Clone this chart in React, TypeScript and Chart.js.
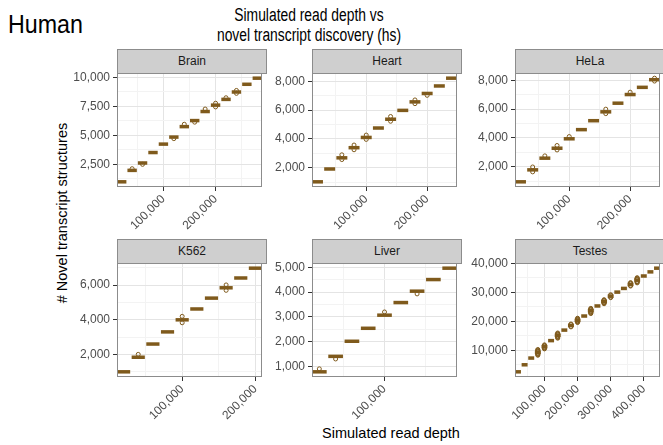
import React, { useEffect, useRef } from "react";
import { Chart, registerables } from "chart.js";

Chart.register(...registerables);
Chart.defaults.font.family = '"Liberation Sans", Arial, Helvetica, sans-serif';

// Simulated read depths (shared by every tissue; each uses as many as it has medians)
const READ_DEPTHS = [
  20000, 40000, 60000, 80000, 100000, 120000, 140000, 160000, 180000, 200000, 220000,
  240000, 260000, 280000, 300000, 320000, 340000, 360000, 380000, 400000, 420000, 440000,
];

// Median novel transcript structures per depth, plus outlying replicates [depth, count]
const BRAIN_MEDIANS = [995, 1980, 2615, 3515, 4240, 4845, 5745, 6265, 7045, 7595, 8090, 8725, 9390, 9915];
const BRAIN_OUTLIERS = [
  [40000, 2125], [60000, 2500], [120000, 4710], [140000, 5950], [160000, 6130], [180000, 7260],
  [200000, 7760], [200000, 7440], [220000, 8230], [240000, 8860], [240000, 8610],
];

const HEART_MEDIANS = [1015, 1905, 2680, 3385, 4095, 4750, 5360, 5975, 6565, 7150, 7670, 8210];
const HEART_OUTLIERS = [
  [60000, 2890], [60000, 2560], [80000, 3570], [80000, 3240], [100000, 4260], [100000, 3960],
  [140000, 5550], [140000, 5220], [180000, 6700], [180000, 6440], [200000, 7020],
];

const HELA_MEDIANS = [960, 1790, 2600, 3290, 3945, 4580, 5200, 5815, 6415, 7015, 7515, 8045];
const HELA_OUTLIERS = [
  [40000, 1990], [40000, 1650], [60000, 2760], [80000, 3480], [80000, 3170], [100000, 4100],
  [160000, 6000], [160000, 5690], [200000, 7180], [240000, 8150], [240000, 7950],
];

const K562_MEDIANS = [1005, 1845, 2605, 3305, 4000, 4625, 5250, 5845, 6410, 6975];
const K562_OUTLIERS = [
  [40000, 2010], [100000, 4200], [100000, 3830], [160000, 6010], [160000, 5700],
];

const LIVER_MEDIANS = [780, 1405, 2015, 2540, 3070, 3580, 4040, 4510, 4970];
const LIVER_OUTLIERS = [[20000, 900], [40000, 1300], [100000, 3200], [140000, 3930]];

const TESTES_MEDIANS = [
  2585, 5015, 7335, 9305, 11275, 13360, 15215, 16990, 18610, 20350, 21855,
  23710, 25330, 26870, 28725, 30115, 31390, 32780, 34285, 35680, 37105, 38380,
];
const TESTES_OUTLIERS = [
  [80000, 8300], [80000, 8500], [80000, 8700], [80000, 8900], [80000, 9100],
  [80000, 9500], [80000, 9700], [80000, 9900], [80000, 10100], [80000, 10300],
  [100000, 10500], [100000, 10700], [100000, 10900], [100000, 11100],
  [100000, 11500], [100000, 11700], [100000, 11900],
  [140000, 14200], [140000, 14400], [140000, 14600], [140000, 14800], [140000, 15000],
  [140000, 15400], [140000, 15600], [140000, 15800], [140000, 16000],
  [180000, 18100], [180000, 18300], [180000, 18900], [180000, 19100],
  [200000, 19600], [200000, 19800], [200000, 20000], [200000, 20200],
  [200000, 20500], [200000, 20700], [200000, 20900], [200000, 21100],
  [240000, 22700], [240000, 22900], [240000, 23100], [240000, 23300], [240000, 23500],
  [240000, 23900], [240000, 24100], [240000, 24300], [240000, 24500],
  [280000, 26100], [280000, 26300], [280000, 26500], [280000, 26700],
  [280000, 27100], [280000, 27300], [280000, 27500],
  [300000, 28200], [300000, 28400], [300000, 29000], [300000, 29200],
  [360000, 32200], [360000, 32400], [360000, 33000], [360000, 33200], [360000, 33400],
  [380000, 33300], [380000, 33500], [380000, 33700], [380000, 33900],
  [380000, 34500], [380000, 34700], [380000, 34900], [380000, 35100],
];

// Axis break sequences (only the ones inside each panel's range are drawn)
const DEPTH_BREAKS_300K = [0, 100000, 200000, 300000];
const DEPTH_BREAKS_200K = [0, 100000, 200000];
const DEPTH_BREAKS_500K = [0, 100000, 200000, 300000, 400000, 500000];
const BRAIN_Y_BREAKS = [0, 2500, 5000, 7500, 10000, 12500];
const HEART_Y_BREAKS = [0, 2000, 4000, 6000, 8000, 10000];
const HELA_Y_BREAKS = [0, 2000, 4000, 6000, 8000, 10000];
const K562_Y_BREAKS = [0, 2000, 4000, 6000, 8000];
const LIVER_Y_BREAKS = [0, 1000, 2000, 3000, 4000, 5000, 6000];
const TESTES_Y_BREAKS = [0, 10000, 20000, 30000, 40000, 50000];

const BROWN = "#7f5a1c";
const PLOT_W = 150;
const PLOT_H = 114;
const STRIP_H = 24;
const Y_AXIS_W = 56;
const X_AXIS_H = 56;
const TOP_PAD = 10;

const fmt = (v: number) => v.toLocaleString("en-US");

type Pair = number[];

interface PanelProps {
  name: string;
  medians: number[];
  outliers: Pair[];
  xBreaks: number[];
  yBreaks: number[];
  left: number;
  top: number;
}

function tickList(breaks: number[], min: number, max: number) {
  const major = breaks.filter((b) => b >= min && b <= max);
  const minor: number[] = [];
  for (let i = 0; i < breaks.length - 1; i++) {
    const m = (breaks[i] + breaks[i + 1]) / 2;
    if (m >= min && m <= max) minor.push(m);
  }
  return { major, all: [...major, ...minor].sort((a, b) => a - b) };
}

const panelBorder = {
  id: "panelBorder",
  afterDraw(chart: any) {
    const { ctx, chartArea: a } = chart;
    ctx.save();
    ctx.strokeStyle = "#8c8c8c";
    ctx.lineWidth = 1;
    ctx.strokeRect(a.left + 0.5, a.top + 0.5, a.right - a.left - 1, a.bottom - a.top - 1);
    ctx.restore();
  },
};

function FacetPanel({ name, medians, outliers, xBreaks, yBreaks, left, top }: PanelProps) {
  const ref = useRef<HTMLCanvasElement>(null);

  useEffect(() => {
    const depths = READ_DEPTHS.slice(0, medians.length);
    const step = depths[1] - depths[0];
    const half = step * 0.45;
    const xMin = depths[0] - half;
    const xMax = depths[depths.length - 1] + half;
    const values = [...medians, ...outliers.map((o) => o[1])];
    const lo = Math.min(...values);
    const hi = Math.max(...values);
    const pad = (hi - lo) * 0.05;
    const yMin = lo - pad;
    const yMax = hi + pad;

    const xt = tickList(xBreaks, xMin, xMax);
    const yt = tickList(yBreaks, yMin, yMax);

    const gridFor = (major: number[]) => ({
      color: (c: any) => (c.tick && major.includes(c.tick.value) ? "#e4e4e4" : "#f3f3f3"),
      lineWidth: 1,
      tickColor: (c: any) => (c.tick && major.includes(c.tick.value) ? "#333333" : "rgba(0,0,0,0)"),
      tickLength: 4,
      tickWidth: 1,
    });

    const chart = new Chart(ref.current as HTMLCanvasElement, {
      type: "scatter",
      data: {
        datasets: [
          {
            data: outliers.map(([x, y]) => ({ x, y })),
            pointStyle: "circle",
            pointRadius: 2,
            pointBorderWidth: 1,
            pointBorderColor: BROWN,
            pointBackgroundColor: "rgba(0,0,0,0)",
            clip: false,
          },
          {
            data: depths.map((x, i) => ({ x, y: medians[i] })),
            pointStyle: "line",
            pointRadius: (c: any) => {
              const s = c.chart.scales.x;
              return Math.abs(s.getPixelForValue(half) - s.getPixelForValue(0));
            },
            pointBorderWidth: 3.5,
            pointBorderColor: BROWN,
            clip: false,
          },
        ] as any,
      },
      options: {
        animation: false,
        responsive: false,
        devicePixelRatio: 1,
        layout: { padding: { top: TOP_PAD, left: 0, right: 0, bottom: 0 } },
        plugins: { legend: { display: false }, tooltip: { enabled: false } },
        events: [],
        scales: {
          x: {
            type: "linear",
            bounds: "data",
            min: xMin,
            max: xMax,
            afterBuildTicks: (s: any) => {
              s.ticks = xt.all.map((v) => ({ value: v }));
            },
            afterFit: (s: any) => {
              s.height = X_AXIS_H;
              s.paddingLeft = 0;
              s.paddingRight = 0;
            },
            grid: gridFor(xt.major),
            border: { display: false },
            ticks: {
              autoSkip: false,
              minRotation: 45,
              maxRotation: 45,
              padding: 1,
              color: "#4d4d4d",
              font: { size: 12 },
              callback: (v: any) => (xt.major.includes(v) ? fmt(v) : ""),
            },
          },
          y: {
            type: "linear",
            bounds: "data",
            min: yMin,
            max: yMax,
            afterBuildTicks: (s: any) => {
              s.ticks = yt.all.map((v) => ({ value: v }));
            },
            afterFit: (s: any) => {
              s.width = Y_AXIS_W;
              s.paddingTop = 0;
              s.paddingBottom = 0;
            },
            grid: gridFor(yt.major),
            border: { display: false },
            ticks: {
              autoSkip: false,
              padding: 3,
              color: "#4d4d4d",
              font: { size: 12 },
              callback: (v: any) => (yt.major.includes(v) ? fmt(v) : ""),
            },
          },
        },
      } as any,
      plugins: [panelBorder],
    });
    return () => chart.destroy();
  }, []);

  return (
    <>
      <canvas
        ref={ref}
        width={Y_AXIS_W + PLOT_W}
        height={TOP_PAD + PLOT_H + X_AXIS_H}
        style={{
          position: "absolute",
          left: left - Y_AXIS_W,
          top: top - TOP_PAD,
          width: Y_AXIS_W + PLOT_W,
          height: TOP_PAD + PLOT_H + X_AXIS_H,
        }}
      />
      <div
        style={{
          position: "absolute",
          left,
          top: top - STRIP_H,
          width: PLOT_W,
          height: STRIP_H + 1,
          boxSizing: "border-box",
          border: "1px solid #8c8c8c",
          background: "#cfcfcf",
          color: "#1a1a1a",
          fontSize: 12,
          lineHeight: `${STRIP_H - 1}px`,
          textAlign: "center",
        }}
      >
        {name}
      </div>
    </>
  );
}

const PANELS: PanelProps[] = [
  { name: "Brain", medians: BRAIN_MEDIANS, outliers: BRAIN_OUTLIERS, xBreaks: DEPTH_BREAKS_300K, yBreaks: BRAIN_Y_BREAKS, left: 117, top: 73 },
  { name: "Heart", medians: HEART_MEDIANS, outliers: HEART_OUTLIERS, xBreaks: DEPTH_BREAKS_300K, yBreaks: HEART_Y_BREAKS, left: 312, top: 73 },
  { name: "HeLa", medians: HELA_MEDIANS, outliers: HELA_OUTLIERS, xBreaks: DEPTH_BREAKS_300K, yBreaks: HELA_Y_BREAKS, left: 515, top: 73 },
  { name: "K562", medians: K562_MEDIANS, outliers: K562_OUTLIERS, xBreaks: DEPTH_BREAKS_300K, yBreaks: K562_Y_BREAKS, left: 117, top: 263 },
  { name: "Liver", medians: LIVER_MEDIANS, outliers: LIVER_OUTLIERS, xBreaks: DEPTH_BREAKS_200K, yBreaks: LIVER_Y_BREAKS, left: 312, top: 263 },
  { name: "Testes", medians: TESTES_MEDIANS, outliers: TESTES_OUTLIERS, xBreaks: DEPTH_BREAKS_500K, yBreaks: TESTES_Y_BREAKS, left: 515, top: 263 },
];

export default function App() {
  return (
    <div
      style={{
        position: "fixed",
        left: 0,
        top: 0,
        width: 663,
        height: 445,
        overflow: "hidden",
        background: "#ffffff",
        fontFamily: '"Liberation Sans", Arial, Helvetica, sans-serif',
      }}
    >
      <div
        style={{
          position: "absolute",
          left: 8,
          top: 12,
          fontSize: 25,
          lineHeight: "25px",
          color: "#000",
          whiteSpace: "nowrap",
          transform: "scaleX(0.93)",
          transformOrigin: "0 0",
        }}
      >
        Human
      </div>
      <div
        style={{
          position: "absolute",
          left: 159,
          width: 300,
          top: 5,
          fontSize: 18,
          lineHeight: "20px",
          textAlign: "center",
          color: "#000",
          transform: "scaleX(0.77)",
          transformOrigin: "50% 0",
        }}
      >
        Simulated read depth vs
        <br />
        novel transcript discovery (hs)
      </div>
      <div
        style={{
          position: "absolute",
          left: 62 - 150,
          top: 213 - 9,
          width: 300,
          height: 18,
          fontSize: 14.5,
          lineHeight: "18px",
          textAlign: "center",
          color: "#000",
          whiteSpace: "nowrap",
          transform: "rotate(-90deg)",
          transformOrigin: "50% 50%",
        }}
      >
        # Novel transcript structures
      </div>
      <div
        style={{
          position: "absolute",
          left: 391 - 150,
          top: 424,
          width: 300,
          fontSize: 14.5,
          lineHeight: "18px",
          textAlign: "center",
          color: "#000",
          whiteSpace: "nowrap",
        }}
      >
        Simulated read depth
      </div>
      {PANELS.map((p) => (
        <FacetPanel key={p.name} {...p} />
      ))}
    </div>
  );
}
